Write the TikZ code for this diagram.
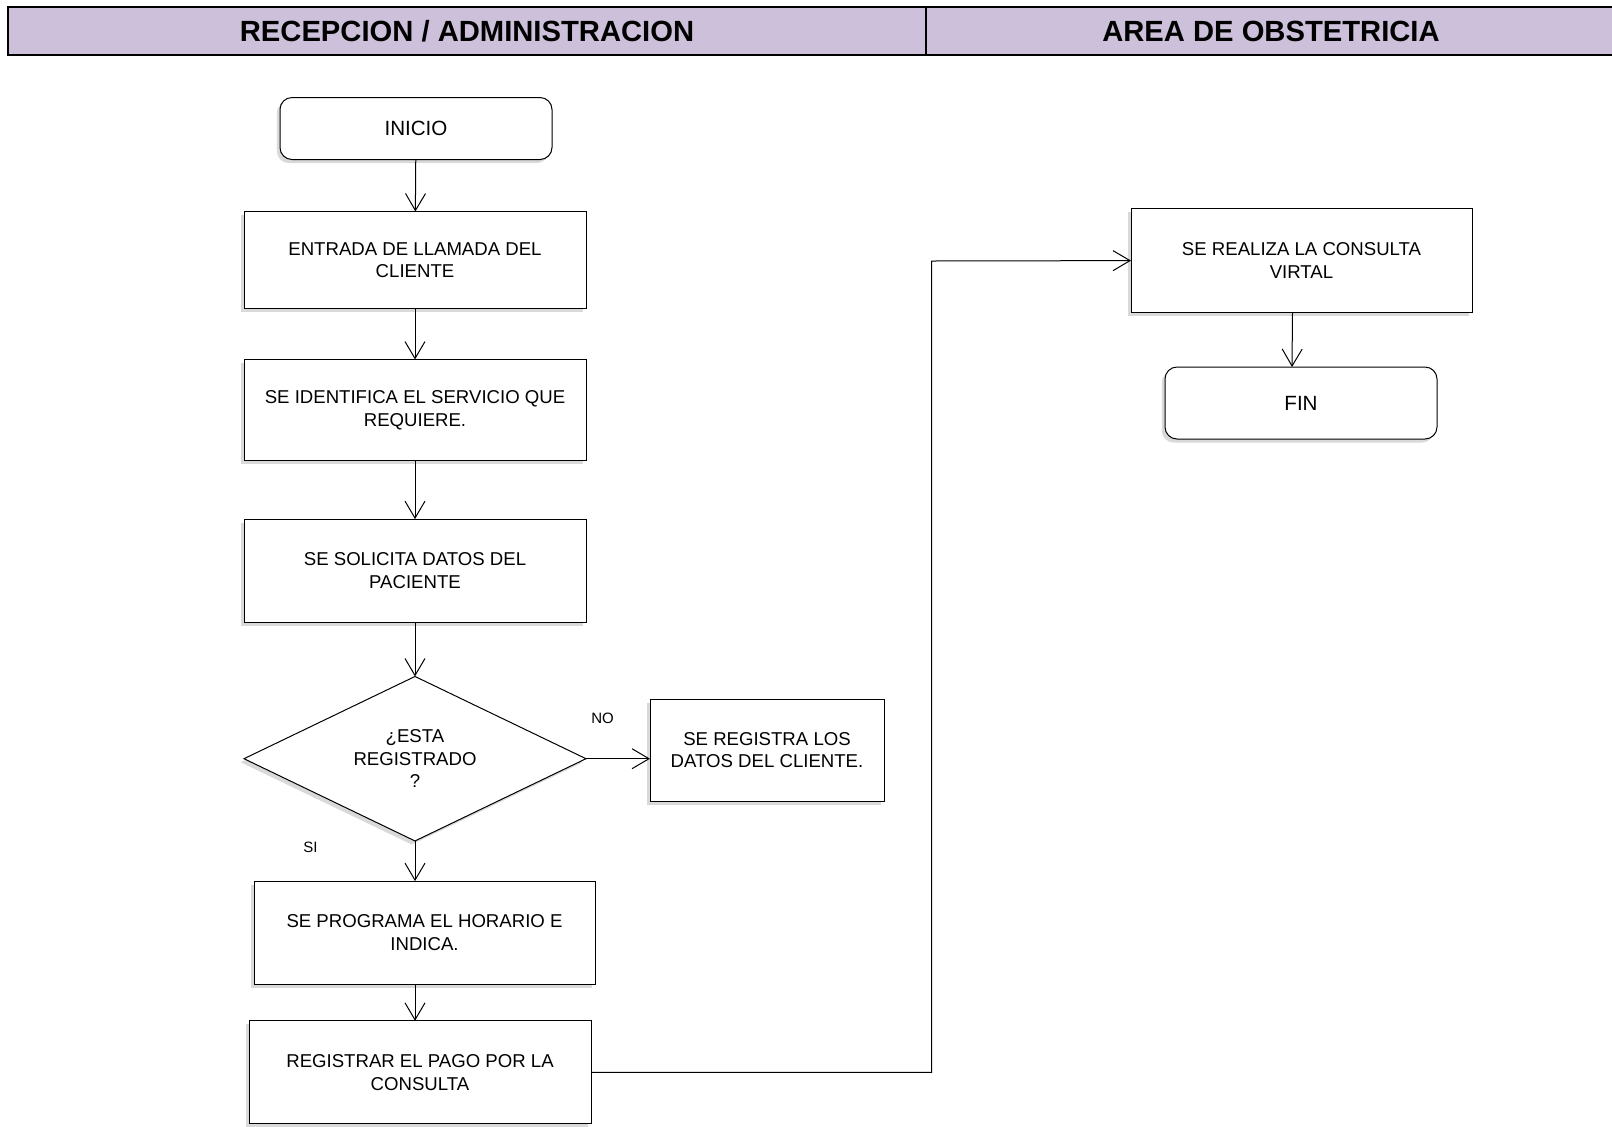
\documentclass[tikz,border=0pt]{standalone}
\usepackage{fontspec}
\setmainfont{Liberation Sans}
\usetikzlibrary{arrows.meta, shapes.geometric, shadows}
\definecolor{headerlila}{RGB}{204,192,218}

\begin{document}
\begin{tikzpicture}[x=0.5pt, y=-0.5pt,
    every node/.style={align=center, outer sep=0pt, font=\fontsize{9.3}{11.3}\selectfont},
    proc/.style={draw, fill=white, line width=0.5pt, minimum width=171pt, minimum height=51pt,
        drop shadow={shadow xshift=-1.6pt, shadow yshift=-1.8pt, opacity=0.3}},
    term/.style={proc, rounded corners=6pt, minimum width=136pt, font=\fontsize{10.3}{12}\selectfont},
    decision/.style={proc, diamond, shape aspect=2, inner sep=0pt, minimum height=82.25pt},
    flow/.style={-{Straight Barb[length=8.5pt, width=10pt]}, line width=0.5pt},
    lane/.style={font=\fontsize{14.6}{17}\selectfont\bfseries},
    answer/.style={font=\fontsize{7.5}{9}\selectfont}]
    \useasboundingbox (0,0) rectangle (1612,1126);

    % Header of the lanes
    \fill[headerlila] (8,7) rectangle (1620,54.5);
    \draw[line width=1pt] (8,7) rectangle (1620,54.5);
    \draw[line width=0.6pt] (926,7) -- (926,54.5);
    \node[lane] (recepcion) at (467,31) {RECEPCION / ADMINISTRACION};
    \node[lane] (obstetricia) at (1271,31) {AREA DE OBSTETRICIA};

    % Recepcion / administracion
    \node[term, minimum height=31pt] (inicio) at (416,128.5) {INICIO};
    \node[proc, minimum height=48.5pt] (llamada) at (415,260) {ENTRADA DE LLAMADA DEL\\CLIENTE};
    \node[proc, minimum height=50.5pt] (servicio) at (415,410) {SE IDENTIFICA EL SERVICIO QUE\\REQUIERE.};
    \node[proc, minimum height=51.5pt] (datos) at (415,570.6) {SE SOLICITA DATOS DEL\\PACIENTE};
    \node[decision] (registrado) at (415,758.7) {¿ESTA\\REGISTRADO\\?};
    \node[proc, minimum width=117pt] (nuevo) at (767,750) {SE REGISTRA LOS\\DATOS DEL CLIENTE.};
    \node[proc, minimum width=170.5pt, minimum height=51.5pt] (horario) at (424.5,932.6) {SE PROGRAMA EL HORARIO E\\INDICA.};
    \node[proc, minimum height=51.5pt] (pago) at (420,1072.3) {REGISTRAR EL PAGO POR LA\\CONSULTA};

    % Area de obstetricia
    \node[proc, minimum width=170.5pt, minimum height=52pt] (consulta) at (1301.5,260.6) {SE REALIZA LA CONSULTA\\VIRTAL};
    \node[term, minimum height=36pt] (fin) at (1301,403) {FIN};

    \node[answer] (no) at (602.5,718.6) {NO};
    \node[answer] (si) at (310.5,847) {SI};

    % Connectors
    \draw[flow] (inicio) -- (llamada);
    \draw[flow] (llamada) -- (servicio);
    \draw[flow] (servicio) -- (datos);
    \draw[flow] (datos) -- (registrado);
    \draw[flow] (registrado.east) -- (registrado.east -| nuevo.west);
    \draw[flow] (registrado.south) -- (registrado.south |- horario.north);
    \draw[flow] (registrado.south |- horario.south) -- (registrado.south |- pago.north);
    \coordinate (giro) at (931.5,261);
    \draw[flow] (pago.east) -| (giro) -- (consulta.west);
    \draw[flow] ([xshift=-4.5pt]consulta.south) -- ([xshift=-4.5pt]fin.north);
\end{tikzpicture}
\end{document}
